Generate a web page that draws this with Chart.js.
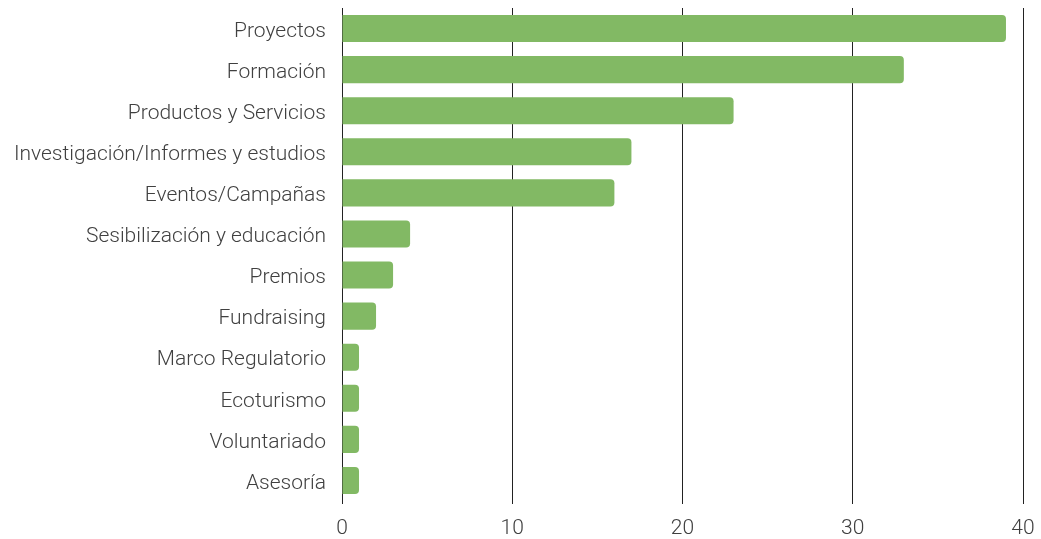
<!DOCTYPE html>
<html>
<head>
<meta charset="utf-8">
<script src="https://cdn.jsdelivr.net/npm/chart.js@4"></script>
<style>
   html, body { margin: 0; padding: 0; background: #fff; }
   #wrap { width: 1041px; height: 539px; }
</style>
</head>
<body>
<div id="wrap"><canvas id="myChart"></canvas></div>
<script>
const categories = [
   "Proyectos", "Formación", "Productos y Servicios", "Investigación/Informes y estudios",
   "Eventos/Campañas", "Sesibilización y educación", "Premios", "Fundraising",
   "Marco Regulatorio", "Ecoturismo", "Voluntariado", "Asesoría"
];
const counts = [39, 33, 23, 17, 16, 4, 3, 2, 1, 1, 1, 1];
const xTicks = [0, 10, 20, 30, 40];

const textColor = '#404040';
const font = {family: 'Roboto', size: 21, weight: 300};

const ctx = document.getElementById('myChart').getContext('2d');
new Chart(ctx, {
   type: 'bar',
   data: {
      labels: categories,
      datasets: [{
         data: counts,
         backgroundColor: '#82b964',
         borderWidth: 0,
         borderRadius: 4,
         barPercentage: 0.66,
         categoryPercentage: 1,
      }]
   },
   options: {
      indexAxis: 'y',
      responsive: true,
      maintainAspectRatio: false,
      animation: false,
      layout: {padding: {top: 8, right: 18, bottom: 0, left: 0}},
      plugins: {legend: {display: false}, tooltip: {enabled: false}},
      scales: {
         x: {
            min: 0, max: 40,
            afterBuildTicks: scale => { scale.ticks = xTicks.map(v => ({value: v})); },
            afterFit: scale => { scale.height = 38; scale.paddingLeft = 0; scale.paddingRight = 0; },
            ticks: {color: textColor, font: font, padding: 12},
            grid: {color: '#222222', lineWidth: 1, drawTicks: true, tickLength: 3},
            border: {display: false},
         },
         y: {
            afterFit: scale => { scale.width = 342; scale.paddingTop = 0; scale.paddingBottom = 0; },
            ticks: {color: textColor, font: font, padding: 8, labelOffset: 3},
            grid: {display: false},
            border: {display: false},
         }
      }
   }
});
</script>
</body>
</html>
